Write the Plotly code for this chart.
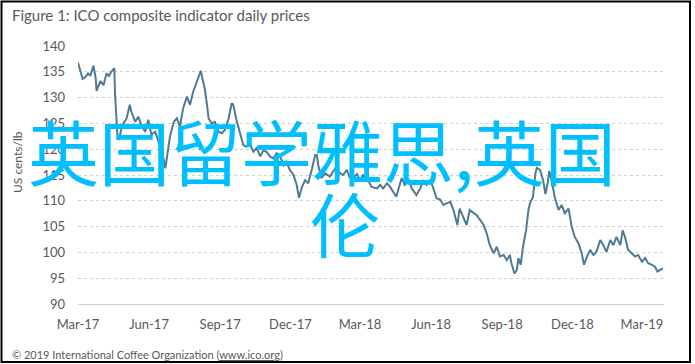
import pandas as pd
import plotly.graph_objects as go

# Days since 2017-03-01 and ICO composite indicator (US cents/lb)
day_offsets = [0, 3, 6, 9, 13, 16, 20, 23, 24, 29, 33, 37, 40, 43, 47, 48, 50, 51, 53, 57,
               63, 67, 69, 74, 78, 82, 87, 91, 95, 100, 104, 108, 113, 116, 119, 124, 128, 132, 136, 141,
               145, 149, 154, 157, 159, 161, 164, 167, 169, 173, 177, 182, 186, 190, 195, 199, 201, 205, 210, 214,
               218, 223, 227, 231, 236, 240, 244, 249, 253, 257, 261, 266, 270, 274, 279, 283, 286, 290, 294, 298,
               303, 307, 309, 311, 315, 320, 326, 333, 338, 343, 348, 352, 356, 361, 365, 369, 374, 380, 387, 391,
               395, 400, 404, 408, 412, 415, 419, 423, 428, 432, 438, 443, 447, 451, 456, 460, 464, 469, 473, 477,
               482, 486, 491, 494, 499, 503, 507, 512, 516, 520, 525, 529, 533, 538, 542, 546, 551, 555, 559, 561,
               565, 568, 570, 573, 576, 580, 583, 585, 589, 592, 594, 598, 602, 605, 608, 610, 613, 617, 622, 626,
               630, 635, 639, 643, 648, 652, 655, 658, 663, 667, 671, 676, 680, 684, 689, 693, 697, 702, 705, 708,
               712, 717, 721, 725, 730, 734, 738, 743, 747, 750, 753, 757]
prices = [136.8, 135.3, 133.6, 133.9, 134.7, 134.2, 136.2, 133.7, 131.3, 133.2, 132.4, 134.7, 134.2, 135.0, 135.7, 130.5, 125.3, 122.8, 121.8, 124.5,
          126.0, 128.6, 127.3, 125.3, 126.3, 124.7, 123.4, 125.7, 122.8, 123.4, 121.5, 120.2, 116.3, 119.5, 122.4, 125.3, 126.0, 124.4, 127.9, 130.2,
          128.6, 131.1, 133.1, 134.0, 135.2, 133.7, 131.8, 128.6, 126.0, 125.0, 125.3, 123.4, 123.1, 123.7, 126.0, 128.9, 128.6, 125.7, 122.8, 120.8,
          120.5, 120.8, 119.5, 120.2, 118.6, 119.8, 119.5, 118.5, 118.2, 119.2, 118.9, 116.9, 117.6, 116.0, 115.0, 113.1, 110.6, 112.7, 114.0, 113.4,
          116.3, 118.9, 118.9, 116.9, 114.4, 115.3, 114.7, 116.3, 115.5, 115.0, 116.0, 114.4, 114.4, 115.2, 114.0, 115.0, 114.4, 112.7, 112.4, 113.1,
          112.4, 113.4, 112.7, 111.8, 110.8, 112.4, 114.4, 113.1, 114.0, 112.4, 111.1, 112.4, 114.0, 113.1, 114.0, 112.4, 110.5, 110.2, 109.2, 109.5,
          109.8, 108.2, 105.3, 108.5, 106.6, 105.3, 108.2, 107.6, 107.2, 106.4, 105.3, 103.7, 101.4, 99.8, 101.1, 99.2, 99.5, 98.5, 99.5, 97.9,
          95.9, 96.6, 98.9, 97.6, 101.1, 104.3, 108.2, 109.5, 110.8, 115.3, 116.4, 116.0, 114.0, 111.3, 113.5, 115.8, 114.0, 110.8, 108.2, 109.2,
          107.6, 108.5, 105.0, 103.0, 101.7, 99.8, 97.6, 98.9, 100.5, 99.5, 100.1, 102.4, 101.4, 100.1, 102.4, 101.4, 103.0, 101.4, 104.3, 103.0,
          100.5, 99.8, 99.2, 99.5, 98.2, 98.9, 97.9, 97.6, 97.2, 96.3, 96.6, 96.9]

tick_dates = ["2017-03-01", "2017-06-01", "2017-09-01", "2017-12-01", "2018-03-01",
              "2018-06-01", "2018-09-01", "2018-12-01", "2019-03-01"]
tick_labels = ["Mar-17", "Jun-17", "Sep-17", "Dec-17", "Mar-18",
               "Jun-18", "Sep-18", "Dec-18", "Mar-19"]
y_ticks = [90, 95, 100, 105, 110, 115, 120, 125, 130, 135, 140]

dates = pd.Timestamp("2017-03-01") + pd.to_timedelta(day_offsets, unit="D")

W, H = 695, 364
L, R, T, B = 78, 31, 46, 60
pw, ph = W - L - R, H - T - B

def px(x):
    return (x - L) / pw

def py(y):
    return (H - B - y) / ph

GREY = "#595959"
FONT = "Lato"

fig = go.Figure()
fig.add_trace(go.Scatter(x=dates, y=prices, mode="lines",
                         line=dict(color="#4e7b93", width=2), hoverinfo="skip"))

fig.update_layout(
    width=W, height=H,
    margin=dict(l=L, r=R, t=T, b=B),
    paper_bgcolor="white", plot_bgcolor="white",
    showlegend=False,
    font=dict(family=FONT, color=GREY, size=13),
    xaxis=dict(type="date", range=["2017-03-01", "2019-03-29 12:00"],
               tickmode="array", tickvals=tick_dates, ticktext=tick_labels,
               showgrid=False, zeroline=False, showline=True,
               linecolor="#d0d0d0", linewidth=1, ticks="",
               ticklabelstandoff=8, tickfont=dict(size=13, color=GREY)),
    yaxis=dict(range=[90, 140], tickmode="array", tickvals=y_ticks,
               showgrid=True, gridcolor="#cfcfcf", griddash="dot", gridwidth=1,
               zeroline=False, showline=False, ticks="",
               ticklabelstandoff=12, tickfont=dict(size=13, color=GREY)),
)

annotations = [
    dict(text="Figure 1: ICO composite indicator daily prices", x=px(10), y=py(15),
         xanchor="left", yanchor="middle", font=dict(size=15, color=GREY, family=FONT)),
    dict(text="US cents/lb", x=px(17), y=py(162), textangle=-90,
         xanchor="center", yanchor="middle", font=dict(size=12, color=GREY, family=FONT)),
    dict(text="© 2019 International Coffee Organization (<u>www.ico.org</u>)", x=px(10), y=py(354),
         xanchor="left", yanchor="middle", font=dict(size=11, color=GREY, family=FONT)),
    dict(text="英国留学雅思,英国", x=px(322), y=py(149), xanchor="center", yanchor="middle",
         font=dict(size=71, color="#00bfff", family="Noto Sans CJK SC")),
    dict(text="伦", x=px(345), y=py(222), xanchor="center", yanchor="middle",
         font=dict(size=70, color="#00bfff", family="Noto Sans CJK SC")),
]
for a in annotations:
    a.update(xref="paper", yref="paper", showarrow=False)
fig.update_layout(annotations=annotations)

# outer frame
fig.add_shape(type="rect", xref="paper", yref="paper",
              x0=px(1.5), x1=px(690), y0=py(362), y1=py(1.5),
              line=dict(color="black", width=2), fillcolor="rgba(0,0,0,0)", layer="above")

fig.write_html("out.html", config={"displayModeBar": False},
               post_script="document.body.style.margin='0px';document.body.style.overflow='hidden';")
